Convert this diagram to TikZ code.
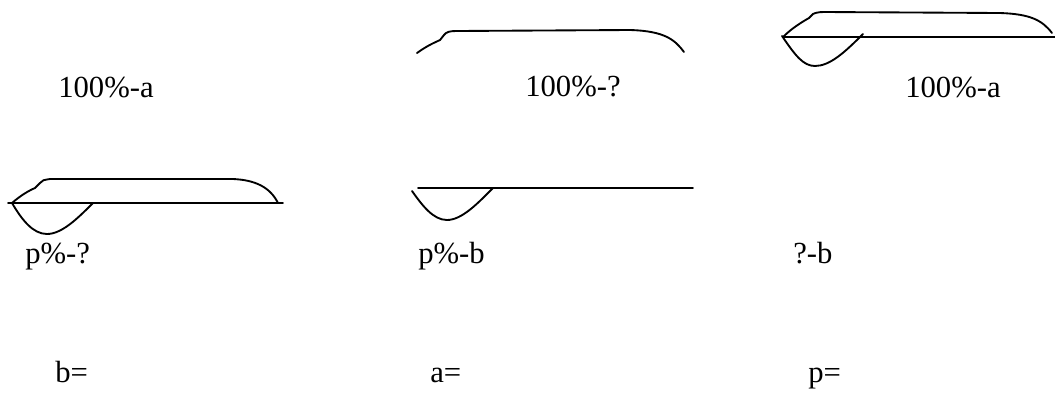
\documentclass[tikz,border=0pt]{standalone}
\usepackage{fontspec}
\setmainfont{Liberation Serif}
\usepackage{tikz}
\usetikzlibrary{positioning}

\begin{document}
\begin{tikzpicture}[x=0.75pt,y=-0.75pt,
    lbl/.style={anchor=base west, inner sep=0pt, font=\fontsize{23}{28}\selectfont},
    curve/.style={line width=1.4pt, line cap=round, line join=round},
]
\useasboundingbox (0,0) rectangle (1055,394);

% top row
\node[lbl] (wholeA) at (58,97) {100\%-a};
\node[lbl] (wholeQ) at (525,96) {100\%-?};
\node[lbl] (wholeA2) at (905,97) {100\%-a};

\draw[curve] (417,53) .. controls (428,45) and (436,42) .. (440,40) -- (444,35)
    .. controls (446,32) and (450,31) .. (456,31) -- (630,30)
    .. controls (665,31) and (675,40) .. (684,52);

\draw[curve] (783,37) -- (1055,37);
\draw[curve] (783,37) .. controls (792,28) and (802,22) .. (809,18) -- (813,14)
    .. controls (815,13) and (818,12) .. (824,12) -- (1000,13)
    .. controls (1030,14) and (1042,20) .. (1052,33);
\draw[curve] (782,36) .. controls (795,55) and (803,66) .. (815,66)
    .. controls (830,66) and (845,52) .. (863,34);

% middle row
\node[lbl] (partQ) at (25,263) {p\%-?};
\node[lbl] (partB) at (418,263) {p\%-b};
\node[lbl] (qB) at (793,263) {?-b};

\draw[curve] (8,203) -- (283,203);
\draw[curve] (12,203) .. controls (20,196) and (28,191) .. (35,188) -- (40,183)
    .. controls (42,180) and (44,180) .. (50,179) -- (233,179)
    .. controls (255,180) and (270,187) .. (278,203);
\draw[curve] (12,203) .. controls (22,220) and (33,234) .. (47,234)
    .. controls (62,234) and (78,218) .. (93,203);

\draw[curve] (418,188) -- (693,188);
\draw[curve] (412,191) .. controls (422,205) and (433,220) .. (447,220)
    .. controls (462,220) and (478,203) .. (493,188);

% bottom row
\node[lbl] (solB) at (55,382) {b=};
\node[lbl] (solA) at (430,382) {a=};
\node[lbl] (solP) at (808,382) {p=};

\end{tikzpicture}
\end{document}
